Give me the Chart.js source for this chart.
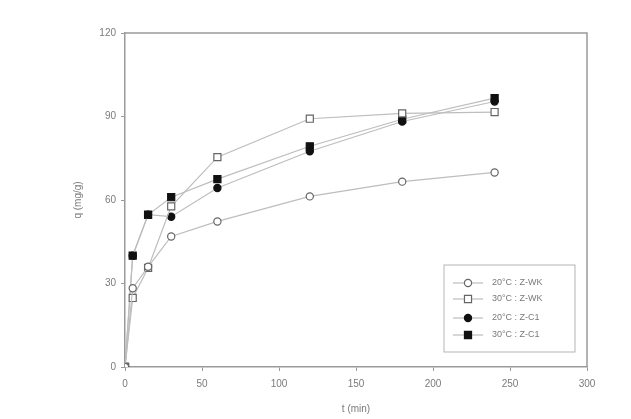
<!DOCTYPE html>
<html>
<head>
<meta charset="utf-8">
<script src="https://cdn.jsdelivr.net/npm/chart.js@4.4.0/dist/chart.umd.min.js"></script>
<style>
  html, body { margin: 0; padding: 0; background: #fff; }
  #wrap { width: 631px; height: 419px; }
</style>
</head>
<body>
<div id="wrap"><canvas id="qChart" width="631" height="419"></canvas></div>
<script>
const times = [0, 5, 15, 30, 60, 120, 180, 240];
const wk20 = [0, 28.3, 36, 46.9, 52.3, 61.3, 66.6, 69.9];
const wk30 = [0, 24.8, 35.6, 57.7, 75.4, 89.2, 91.1, 91.6];
const c1_20 = [0, 40, 54.7, 54, 64.3, 77.5, 88.2, 95.4];
const c1_30 = [0, 40, 54.7, 61, 67.5, 79.3, 89, 96.6];
const seriesNames = ['20°C : Z-WK', '30°C : Z-WK', '20°C : Z-C1', '30°C : Z-C1'];
const xTicks = [0, 50, 100, 150, 200, 250, 300];
const yTicks = [0, 30, 60, 90, 120];

const textColor = '#7a7a7a';
const lineGray = '#bdbdbd';

function pts(vals) {
  return times.map((t, i) => ({ x: t, y: vals[i] }));
}

function mkSet(label, vals, style, filled) {
  return {
    label: label,
    data: pts(vals),
    showLine: true,
    borderColor: lineGray,
    borderWidth: 1.2,
    pointStyle: style,
    pointRadius: style === 'rect' ? 5 : 3.6,
    pointBorderWidth: 1.2,
    pointBorderColor: filled ? '#111' : '#666',
    pointBackgroundColor: filled ? '#111' : '#fff'
  };
}

// frame round the plot + legend box inside it
const frameAndLegend = {
  id: 'frameAndLegend',
  afterDatasetsDraw(chart) {
    const c = chart.ctx, a = chart.chartArea;
    c.save();
    c.strokeStyle = '#9a9a9a';
    c.lineWidth = 1.5;
    c.beginPath();
    c.moveTo(a.left, a.top);
    c.lineTo(a.right, a.top);
    c.lineTo(a.right, a.bottom);
    c.stroke();

    // legend
    const bx = 444, by = 265, bw = 131, bh = 87;
    c.strokeStyle = '#b5b5b5';
    c.lineWidth = 1;
    c.strokeRect(bx, by, bw, bh);
    const rows = [283, 299, 318, 335];
    c.font = '9px "Liberation Sans", Arial, sans-serif';
    c.textBaseline = 'middle';
    chart.data.datasets.forEach((ds, i) => {
      const y = rows[i];
      c.strokeStyle = lineGray;
      c.lineWidth = 1.2;
      c.beginPath();
      c.moveTo(453, y);
      c.lineTo(483, y);
      c.stroke();
      c.fillStyle = ds.pointBackgroundColor;
      c.strokeStyle = ds.pointBorderColor;
      c.lineWidth = 1.2;
      Chart.helpers.drawPoint(c, { pointStyle: ds.pointStyle, radius: ds.pointRadius, borderWidth: 1.2 }, 468, y);
      c.fillStyle = textColor;
      c.fillText(ds.label, 492, y);
    });
    c.restore();
  }
};

const ctx = document.getElementById('qChart');

new Chart(ctx, {
  type: 'scatter',
  data: {
    datasets: [
      mkSet(seriesNames[0], wk20, 'circle', false),
      mkSet(seriesNames[1], wk30, 'rect', false),
      mkSet(seriesNames[2], c1_20, 'circle', true),
      mkSet(seriesNames[3], c1_30, 'rect', true)
    ]
  },
  options: {
    responsive: false,
    animation: false,
    layout: { padding: { left: 72, right: 44, top: 33, bottom: 0 } },
    plugins: {
      legend: { display: false },
      tooltip: { enabled: false }
    },
    scales: {
      x: {
        type: 'linear',
        min: 0,
        max: 300,
        afterBuildTicks: (s) => { s.ticks = xTicks.map(v => ({ value: v })); },
        afterFit: (s) => { s.height = 52; },
        grid: { drawOnChartArea: false, tickLength: 4, color: '#9a9a9a' },
        border: { color: '#9a9a9a', width: 1.5 },
        ticks: { color: textColor, font: { family: 'Liberation Sans', size: 10 }, padding: 7, maxRotation: 0 },
        title: { display: true, text: 't (min)', color: textColor, font: { family: 'Liberation Sans', size: 10 }, padding: { top: 11 } }
      },
      y: {
        min: 0,
        max: 120,
        afterBuildTicks: (s) => { s.ticks = yTicks.map(v => ({ value: v })); },
        afterFit: (s) => { s.width = 53; },
        grid: { drawOnChartArea: false, tickLength: 4, color: '#9a9a9a' },
        border: { color: '#9a9a9a', width: 1.5 },
        ticks: { color: textColor, font: { family: 'Liberation Sans', size: 10 }, padding: 5 },
        title: { display: true, text: 'q (mg/g)', color: textColor, font: { family: 'Liberation Sans', size: 10 }, padding: 0 }
      }
    }
  },
  plugins: [frameAndLegend]
});
</script>
</body>
</html>
